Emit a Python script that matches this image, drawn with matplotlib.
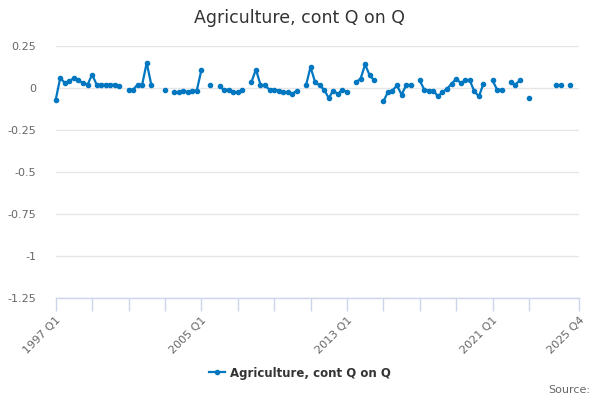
import numpy as np
import matplotlib
matplotlib.use("Agg")
import matplotlib.pyplot as plt
from matplotlib.ticker import FixedLocator, FixedFormatter

N = None
# quarterly values 1997 Q1 .. 2025 Q4 (None = no data)
values = [
    -0.07, 0.06, 0.03, 0.04, 0.06, 0.045, 0.03, 0.02,      # 1997-1998
    0.08, 0.02, 0.02, 0.02, 0.02, 0.02, 0.01, N,           # 1999-2000
    -0.01, -0.01, 0.02, 0.02, 0.15, 0.02, N, N,            # 2001-2002
    -0.01, N, -0.025, -0.025, -0.015, -0.025, -0.015, -0.015,  # 2003-2004
    0.105, N, 0.02, N, 0.01, -0.01, -0.01, -0.025,         # 2005-2006
    -0.025, -0.01, N, 0.035, 0.11, 0.02, 0.015, -0.01,     # 2007-2008
    -0.01, -0.015, -0.025, -0.025, -0.035, -0.015, N, 0.015,  # 2009-2010
    0.125, 0.035, 0.015, -0.01, -0.06, -0.015, -0.035, -0.01,  # 2011-2012
    -0.025, N, 0.035, 0.055, 0.14, 0.075, 0.045, N,        # 2013-2014
    -0.08, -0.025, -0.015, 0.015, -0.04, 0.015, 0.02, N,   # 2015-2016
    0.045, -0.01, -0.015, -0.015, -0.05, -0.025, -0.005, 0.025,  # 2017-2018
    0.055, 0.03, 0.045, 0.045, -0.02, -0.05, 0.025, N,     # 2019-2020
    0.045, -0.01, -0.01, N, 0.035, 0.02, 0.045, N,         # 2021-2022
    -0.06, N, N, N, N, N, 0.015, 0.015,                    # 2023-2024
    N, 0.015, N, N,                                        # 2025
]
series_name = "Agriculture, cont Q on Q"
title = "Agriculture, cont Q on Q"
tick_labels = {0: "1997 Q1", 32: "2005 Q1", 64: "2013 Q1", 96: "2021 Q1", 115: "2025 Q4"}
y_ticks = [0.25, 0, -0.25, -0.5, -0.75, -1, -1.25]
y_tick_labels = ["0.25", "0", "-0.25", "-0.5", "-0.75", "-1", "-1.25"]

y = np.array([np.nan if v is None else v for v in values], dtype=float)
x = np.arange(len(y))

color = "#0077c0"
fig = plt.figure(figsize=(6, 4), dpi=100)
ax = fig.add_axes([55.7 / 600, 1 - 298 / 400, (579 - 55.7) / 600, (298 - 46) / 400])

line, = ax.plot(x, y, color=color, lw=1.6, marker="o", ms=3.0, mec=color, mfc=color,
                label=series_name, zorder=3, clip_on=False)

ax.set_xlim(0, 115)
ax.set_ylim(-1.25, 0.25)

ax.yaxis.set_major_locator(FixedLocator(y_ticks))
ax.yaxis.set_major_formatter(FixedFormatter(y_tick_labels))
ax.grid(axis="y", color="#e6e6e6", lw=1, zorder=0)
ax.tick_params(axis="y", length=0, pad=14, labelsize=8, labelcolor="#666666")

xt = list(range(0, 105, 8)) + [115]
ax.set_xticks(xt)
ax.set_xticklabels([tick_labels.get(t, "") for t in xt], rotation=45, ha="right",
                   rotation_mode="anchor")
ax.tick_params(axis="x", length=9, width=1, color="#ccd6eb", labelsize=8,
               labelcolor="#666666", pad=3)

for s in ["top", "right", "left"]:
    ax.spines[s].set_visible(False)
ax.spines["bottom"].set_color("#ccd6eb")
ax.spines["bottom"].set_linewidth(1)

fig.text(0.5, 0.955, title, ha="center", va="center", fontsize=12.5, color="#333333")

leg = fig.legend(handles=[line], loc="center", bbox_to_anchor=(0.5, 1 - 373 / 400),
                 frameon=False, handlelength=1.4, handletextpad=0.4,
                 prop={"size": 8.5, "weight": "bold"})
for t in leg.get_texts():
    t.set_color("#333333")

fig.text(0.983, 0.025, "Source:", ha="right", va="center", fontsize=8, color="#666666")

fig.savefig("out.png", dpi=100)
